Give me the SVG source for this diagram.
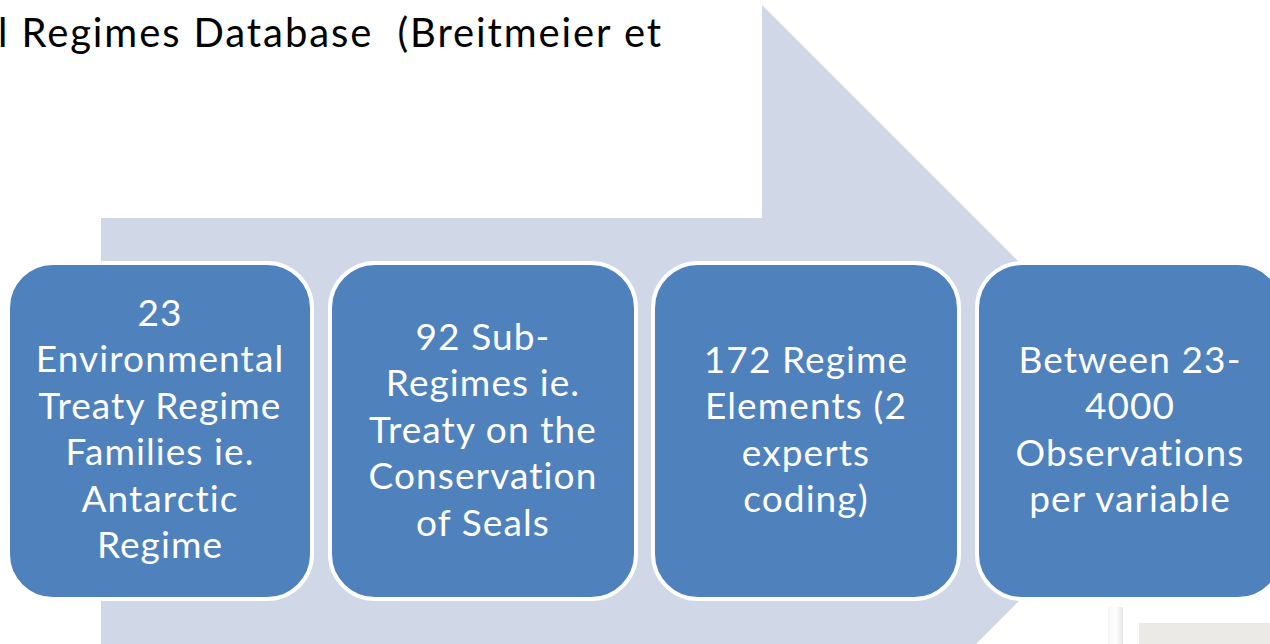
<svg xmlns="http://www.w3.org/2000/svg" width="1270" height="644" viewBox="0 0 1270 644">
<style>
.box{fill:#4F81BD;stroke:#FFFFFF;stroke-width:4}
.t{font-family:Lato,"Liberation Sans",sans-serif;font-size:37px;fill:#FFFFFF;text-anchor:middle;letter-spacing:1.1px}
.title{font-family:Lato,"Liberation Sans",sans-serif;font-size:40px;fill:#000000;letter-spacing:1.9px;white-space:pre}
</style>
<defs>
<linearGradient id="g1" x1="0" y1="0" x2="1" y2="0">
<stop offset="0" stop-color="#F4F4F4"/>
<stop offset="0.5" stop-color="#FFFFFF"/>
<stop offset="1" stop-color="#E6E6E6"/>
</linearGradient>
</defs>
<rect width="1270" height="644" fill="#FFFFFF"/>
<text class="title" x="-2" y="47" xml:space="preserve">l Regimes Database  (Breitmeier et</text>
<g id="arrow">
<polygon points="101,218 762,218 762,5 1188.5,431.5 762,858 762,645 101,645" fill="#D0D7E7"/>
</g>
<g id="decor">
<rect x="1108" y="607" width="15" height="37" fill="url(#g1)"/>
<rect x="1139" y="623" width="131" height="21" fill="#EBEAE6"/>
</g>
<g id="connectors"></g>
<g id="n1">
<rect class="box" x="8" y="263" width="304" height="336" rx="45" ry="45"/>
<text class="t" x="160" y="326">23</text>
<text class="t" x="160" y="372">Environmental</text>
<text class="t" x="160" y="419">Treaty Regime</text>
<text class="t" x="160" y="465">Families ie.</text>
<text class="t" x="160" y="512">Antarctic</text>
<text class="t" x="160" y="558">Regime</text>
</g>
<g id="n2">
<rect class="box" x="330" y="263" width="306" height="336" rx="45" ry="45"/>
<text class="t" x="483" y="350">92 Sub-</text>
<text class="t" x="483" y="396">Regimes ie.</text>
<text class="t" x="483" y="443">Treaty on the</text>
<text class="t" x="483" y="489">Conservation</text>
<text class="t" x="483" y="536">of Seals</text>
</g>
<g id="n3">
<rect class="box" x="653" y="263" width="306" height="336" rx="45" ry="45"/>
<text class="t" x="806" y="373">172 Regime</text>
<text class="t" x="806" y="419">Elements (2</text>
<text class="t" x="806" y="466">experts</text>
<text class="t" x="806" y="512">coding)</text>
</g>
<g id="n4">
<rect class="box" x="977" y="263" width="306" height="336" rx="45" ry="45"/>
<text class="t" x="1130" y="373">Between 23-</text>
<text class="t" x="1130" y="419">4000</text>
<text class="t" x="1130" y="466">Observations</text>
<text class="t" x="1130" y="512">per variable</text>
</g>
</svg>
